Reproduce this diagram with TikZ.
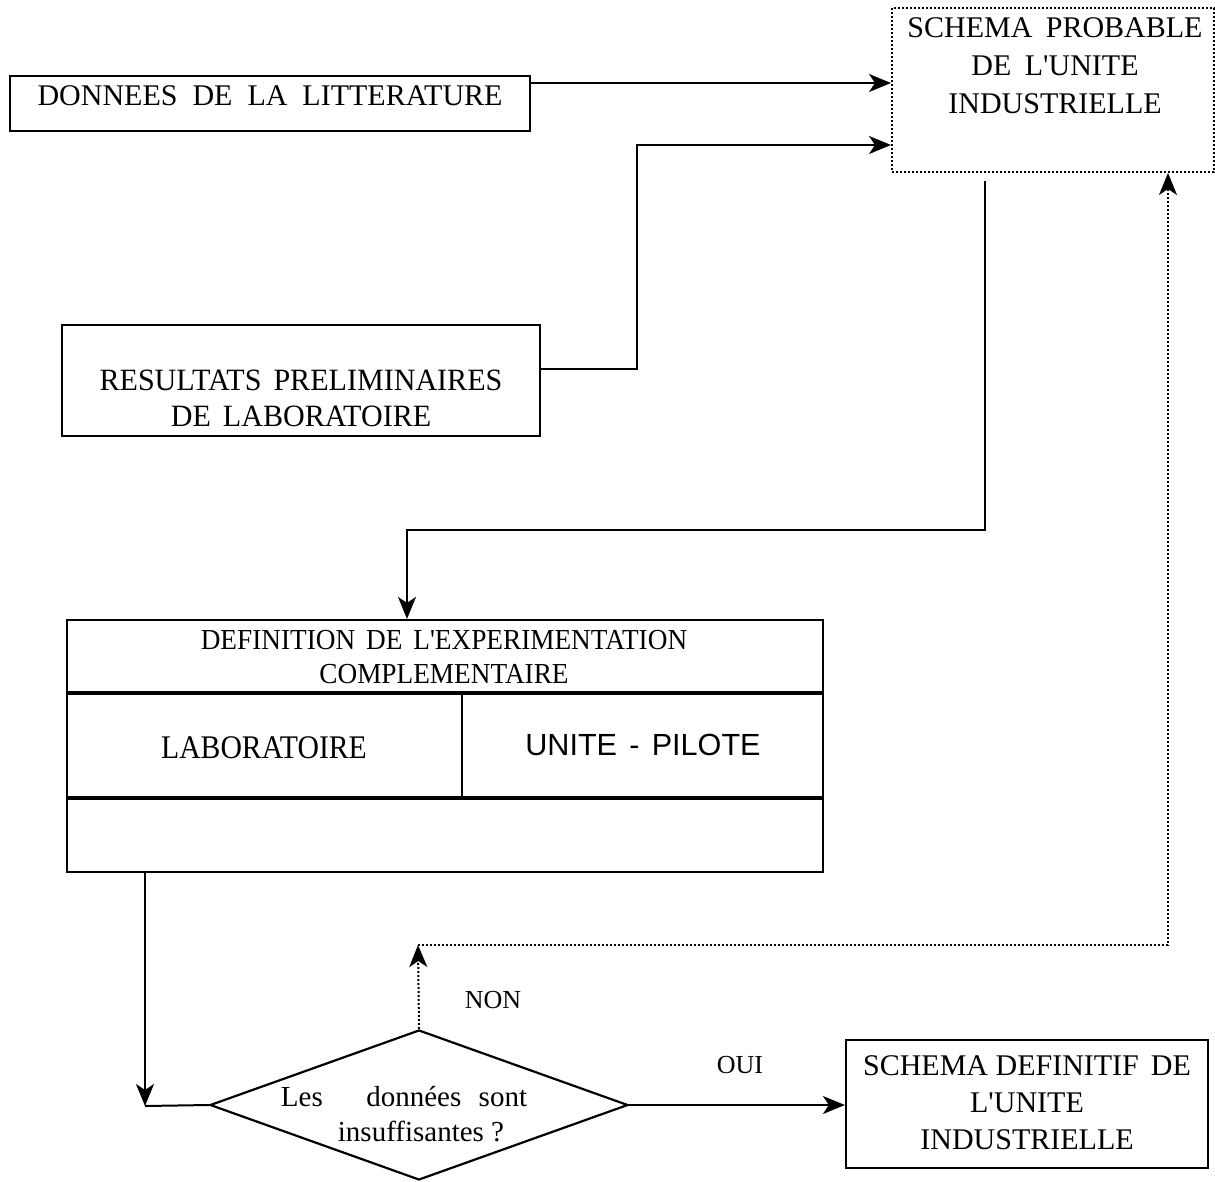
\documentclass[tikz,border=0pt]{standalone}
\usepackage{fontspec}
\setmainfont{Liberation Serif}
\newfontfamily\arialfont{Liberation Sans}
\usetikzlibrary{arrows.meta,shapes.geometric,calc}
\newcommand{\apos}{\textquotesingle}
\begin{document}
\begin{tikzpicture}[x=0.5pt,y=-0.5pt,
 box/.style={draw,line width=1.1pt,inner sep=0pt},
 dotbox/.style={draw,line width=1pt,densely dotted,inner sep=0pt},
 lbl/.style={align=center,inner sep=0pt},
 tip/.style={-{Stealth[length=11pt,width=9pt,inset=3pt]}},
 conn/.style={line width=1pt},
 dotconn/.style={line width=1pt,densely dotted}]
\useasboundingbox (0,0) rectangle (1215,1182);

% boxes
\node[box,minimum width=260pt,minimum height=27.5pt] (don) at (270,103.5) {};
\node[lbl,font=\fontsize{15}{19}\selectfont] (dont) at (270,96) {DONNEES\hspace{0.5em}DE\hspace{0.5em}LA\hspace{0.5em}LITTERATURE};

\node[dotbox,minimum width=161pt,minimum height=82pt] (prob) at (1053,90) {};
\node[lbl,font=\fontsize{15}{19}\selectfont] (probt) at (1055,66) {SCHEMA\hspace{0.45em}PROBABLE\\DE\hspace{0.45em}L\apos UNITE\\INDUSTRIELLE};

\node[box,minimum width=239pt,minimum height=55.5pt] (res) at (301,380.5) {};
\node[lbl,font=\fontsize{15.5}{18}\selectfont] (rest) at (301,398) {\scalebox{0.97}[1]{RESULTATS\hspace{0.4em}PRELIMINAIRES}\\\scalebox{0.97}[1]{DE\hspace{0.4em}LABORATOIRE}};

\node[box,minimum width=378pt,minimum height=126pt] (def) at (445,746) {};
\coordinate (h1w) at (67,693); \coordinate (h1e) at (823,693);
\coordinate (h2w) at (67,798); \coordinate (h2e) at (823,798);
\coordinate (vt) at (462,693); \coordinate (vb) at (462,798);
\draw[line width=2pt] (h1w) -- (h1e);
\draw[line width=2pt] (h2w) -- (h2e);
\draw[line width=1.2pt] (vt) -- (vb);
\node[lbl,font=\fontsize{14.5}{17}\selectfont] (deft) at (444,657) {\scalebox{0.94}[1]{DEFINITION\hspace{0.4em}DE\hspace{0.4em}L\apos EXPERIMENTATION}\\\scalebox{0.94}[1]{COMPLEMENTAIRE}};
\node[lbl,font=\fontsize{16.5}{19}\selectfont] (lab) at (264,748) {\scalebox{0.9}[1]{LABORATOIRE}};
\node[lbl,font=\arialfont\fontsize{15.3}{19}\selectfont] (pil) at (643,745) {UNITE\hspace{0.4em}-\hspace{0.4em}PILOTE};

\node[draw,diamond,line width=1.1pt,inner sep=0pt,minimum width=209pt,minimum height=75pt] (dia) at (419,1105) {};
\node[lbl,font=\fontsize{14.5}{17}\selectfont] (diat1) at (404,1097) {Les\hspace{1.5em}données\hspace{0.6em}sont};
\node[lbl,font=\fontsize{14.5}{17}\selectfont] (diat2) at (421,1131) {insuffisantes ?};

\node[box,minimum width=181pt,minimum height=64pt] (fin) at (1027,1104) {};
\node[lbl,font=\fontsize{15}{18.5}\selectfont] (fint) at (1027,1103) {SCHEMA DEFINITIF\hspace{0.4em}DE\\L\apos UNITE\\INDUSTRIELLE};

\node[lbl,font=\fontsize{13}{15}\selectfont] (non) at (493,1000) {NON};
\node[lbl,font=\fontsize{13}{15}\selectfont] (oui) at (740,1065) {OUI};

% connectors
\draw[conn,tip] (don.east |- 0,83) -- (prob.west |- 0,83);

\coordinate (c1) at (637,369);
\coordinate (c2) at (637,145);
\draw[conn,tip] (res.east |- c1) -- (c1) -- (c2) -- (prob.west |- c2);

\coordinate (c3) at (985,530);
\coordinate (c4) at (407,530);
\draw[conn,tip,shorten <=4pt] (prob.south -| c3) -- (c3) -- (c4) -- (def.north -| c4);

\coordinate (c5) at (145,1106);
\draw[conn,tip] (def.south -| c5) -- (c5);
\draw[conn] (c5) -- (dia.west);

\coordinate (c6) at (418,945);
\coordinate (c7) at (1168,945);
\draw[dotconn,tip] (dia.north) -- (c6);
\draw[dotconn,tip] (c6) -- (c7) -- (prob.south -| c7);

\draw[conn,tip] (dia.east) -- (fin.west |- dia.east);
\end{tikzpicture}
\end{document}
